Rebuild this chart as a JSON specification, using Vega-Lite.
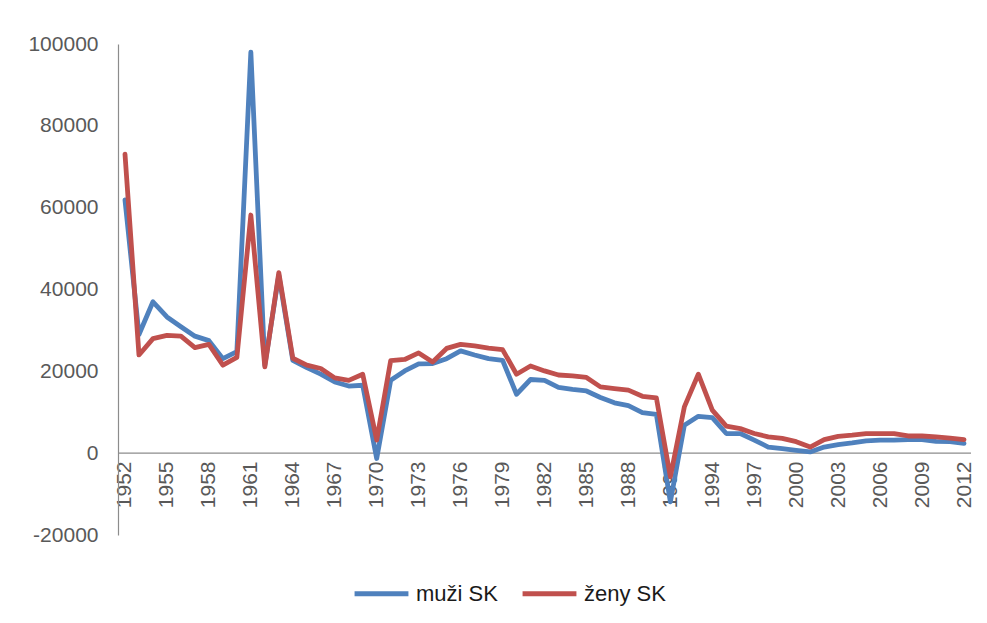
{
  "$schema": "https://vega.github.io/schema/vega-lite/v6.json",
  "autosize": {"type": "none"},
  "width": 853,
  "height": 491,
  "padding": {"left": 118, "top": 44, "right": 16, "bottom": 88},
  "background": "white",
  "config": {"view": {"stroke": null}, "font": "Liberation Sans"},
  "datasets": {
    "d": [
      {"year":1952,"s":"muži SK","v":61900},{"year":1952,"s":"ženy SK","v":73100},
      {"year":1953,"s":"muži SK","v":29000},{"year":1953,"s":"ženy SK","v":24000},
      {"year":1954,"s":"muži SK","v":37000},{"year":1954,"s":"ženy SK","v":28000},
      {"year":1955,"s":"muži SK","v":33300},{"year":1955,"s":"ženy SK","v":28800},
      {"year":1956,"s":"muži SK","v":30900},{"year":1956,"s":"ženy SK","v":28600},
      {"year":1957,"s":"muži SK","v":28600},{"year":1957,"s":"ženy SK","v":25800},
      {"year":1958,"s":"muži SK","v":27500},{"year":1958,"s":"ženy SK","v":26600},
      {"year":1959,"s":"muži SK","v":23100},{"year":1959,"s":"ženy SK","v":21500},
      {"year":1960,"s":"muži SK","v":24800},{"year":1960,"s":"ženy SK","v":23400},
      {"year":1961,"s":"muži SK","v":98000},{"year":1961,"s":"ženy SK","v":58200},
      {"year":1962,"s":"muži SK","v":21500},{"year":1962,"s":"ženy SK","v":21100},
      {"year":1963,"s":"muži SK","v":43500},{"year":1963,"s":"ženy SK","v":44100},
      {"year":1964,"s":"muži SK","v":22700},{"year":1964,"s":"ženy SK","v":23200},
      {"year":1965,"s":"muži SK","v":20900},{"year":1965,"s":"ženy SK","v":21500},
      {"year":1966,"s":"muži SK","v":19300},{"year":1966,"s":"ženy SK","v":20700},
      {"year":1967,"s":"muži SK","v":17400},{"year":1967,"s":"ženy SK","v":18400},
      {"year":1968,"s":"muži SK","v":16400},{"year":1968,"s":"ženy SK","v":17800},
      {"year":1969,"s":"muži SK","v":16600},{"year":1969,"s":"ženy SK","v":19300},
      {"year":1970,"s":"muži SK","v":-1300},{"year":1970,"s":"ženy SK","v":3200},
      {"year":1971,"s":"muži SK","v":17800},{"year":1971,"s":"ženy SK","v":22600},
      {"year":1972,"s":"muži SK","v":20100},{"year":1972,"s":"ženy SK","v":22900},
      {"year":1973,"s":"muži SK","v":21800},{"year":1973,"s":"ženy SK","v":24500},
      {"year":1974,"s":"muži SK","v":21900},{"year":1974,"s":"ženy SK","v":22300},
      {"year":1975,"s":"muži SK","v":23100},{"year":1975,"s":"ženy SK","v":25600},
      {"year":1976,"s":"muži SK","v":25000},{"year":1976,"s":"ženy SK","v":26600},
      {"year":1977,"s":"muži SK","v":24000},{"year":1977,"s":"ženy SK","v":26200},
      {"year":1978,"s":"muži SK","v":23100},{"year":1978,"s":"ženy SK","v":25700},
      {"year":1979,"s":"muži SK","v":22700},{"year":1979,"s":"ženy SK","v":25300},
      {"year":1980,"s":"muži SK","v":14400},{"year":1980,"s":"ženy SK","v":19300},
      {"year":1981,"s":"muži SK","v":18000},{"year":1981,"s":"ženy SK","v":21300},
      {"year":1982,"s":"muži SK","v":17800},{"year":1982,"s":"ženy SK","v":20100},
      {"year":1983,"s":"muži SK","v":16100},{"year":1983,"s":"ženy SK","v":19100},
      {"year":1984,"s":"muži SK","v":15600},{"year":1984,"s":"ženy SK","v":18900},
      {"year":1985,"s":"muži SK","v":15200},{"year":1985,"s":"ženy SK","v":18500},
      {"year":1986,"s":"muži SK","v":13600},{"year":1986,"s":"ženy SK","v":16200},
      {"year":1987,"s":"muži SK","v":12300},{"year":1987,"s":"ženy SK","v":15800},
      {"year":1988,"s":"muži SK","v":11600},{"year":1988,"s":"ženy SK","v":15400},
      {"year":1989,"s":"muži SK","v":9900},{"year":1989,"s":"ženy SK","v":13900},
      {"year":1990,"s":"muži SK","v":9500},{"year":1990,"s":"ženy SK","v":13500},
      {"year":1991,"s":"muži SK","v":-11900},{"year":1991,"s":"ženy SK","v":-5800},
      {"year":1992,"s":"muži SK","v":6800},{"year":1992,"s":"ženy SK","v":11300},
      {"year":1993,"s":"muži SK","v":9000},{"year":1993,"s":"ženy SK","v":19300},
      {"year":1994,"s":"muži SK","v":8700},{"year":1994,"s":"ženy SK","v":10500},
      {"year":1995,"s":"muži SK","v":4800},{"year":1995,"s":"ženy SK","v":6600},
      {"year":1996,"s":"muži SK","v":4800},{"year":1996,"s":"ženy SK","v":6000},
      {"year":1997,"s":"muži SK","v":3200},{"year":1997,"s":"ženy SK","v":4800},
      {"year":1998,"s":"muži SK","v":1500},{"year":1998,"s":"ženy SK","v":4000},
      {"year":1999,"s":"muži SK","v":1100},{"year":1999,"s":"ženy SK","v":3600},
      {"year":2000,"s":"muži SK","v":700},{"year":2000,"s":"ženy SK","v":2800},
      {"year":2001,"s":"muži SK","v":300},{"year":2001,"s":"ženy SK","v":1500},
      {"year":2002,"s":"muži SK","v":1500},{"year":2002,"s":"ženy SK","v":3300},
      {"year":2003,"s":"muži SK","v":2100},{"year":2003,"s":"ženy SK","v":4100},
      {"year":2004,"s":"muži SK","v":2500},{"year":2004,"s":"ženy SK","v":4400},
      {"year":2005,"s":"muži SK","v":3000},{"year":2005,"s":"ženy SK","v":4800},
      {"year":2006,"s":"muži SK","v":3200},{"year":2006,"s":"ženy SK","v":4800},
      {"year":2007,"s":"muži SK","v":3200},{"year":2007,"s":"ženy SK","v":4800},
      {"year":2008,"s":"muži SK","v":3300},{"year":2008,"s":"ženy SK","v":4200},
      {"year":2009,"s":"muži SK","v":3300},{"year":2009,"s":"ženy SK","v":4200},
      {"year":2010,"s":"muži SK","v":2900},{"year":2010,"s":"ženy SK","v":4000},
      {"year":2011,"s":"muži SK","v":2800},{"year":2011,"s":"ženy SK","v":3700},
      {"year":2012,"s":"muži SK","v":2400},{"year":2012,"s":"ženy SK","v":3300}
    ],
    "zero": [{"z": 0}]
  },
  "layer": [
    {
      "data": {"name": "zero"},
      "mark": {"type": "rule", "color": "#8c8c8c", "strokeWidth": 1.2},
      "encoding": {"y": {"field": "z", "type": "quantitative", "scale": {"domain": [-20000, 100000]}}}
    },
    {
      "data": {"name": "d"},
      "mark": {"type": "line", "strokeWidth": 4.8, "strokeJoin": "round", "strokeCap": "round"},
      "encoding": {
        "x": {
          "field": "year", "type": "quantitative",
          "scale": {"domain": [1951.5, 2012.5], "nice": false, "zero": false},
          "axis": {
            "title": null, "values": [1952,1955,1958,1961,1964,1967,1970,1973,1976,1979,1982,1985,1988,1991,1994,1997,2000,2003,2006,2009,2012],
            "format": "d", "labelAngle": -90, "labelAlign": "right", "labelBaseline": "middle",
            "offset": -82, "domain": false, "ticks": false, "grid": false,
            "labelFontSize": 21, "labelColor": "#595959", "labelPadding": 8, "labelFlush": false, "labelOverlap": false
          }
        },
        "y": {
          "field": "v", "type": "quantitative",
          "scale": {"domain": [-20000, 100000], "nice": false},
          "axis": {
            "title": null, "values": [-20000,0,20000,40000,60000,80000,100000],
            "labelExpr": "datum.value < 0 ? '-' + abs(datum.value) : '' + datum.value",
            "grid": false, "ticks": false, "domainColor": "#8c8c8c", "domainWidth": 1.2,
            "labelFontSize": 21, "labelColor": "#595959", "labelPadding": 20
          }
        },
        "color": {
          "field": "s", "type": "nominal",
          "scale": {"domain": ["muži SK", "ženy SK"], "range": ["#4F81BD", "#C0504D"]},
          "legend": {
            "title": null, "orient": "none", "direction": "horizontal",
            "legendX": 234, "legendY": 520,
            "symbolType": "stroke", "symbolSize": 2900, "symbolStrokeWidth": 5,
            "labelFontSize": 22, "labelColor": "#1a1a1a", "columnPadding": 14, "labelOffset": 5
          }
        }
      }
    }
  ]
}
